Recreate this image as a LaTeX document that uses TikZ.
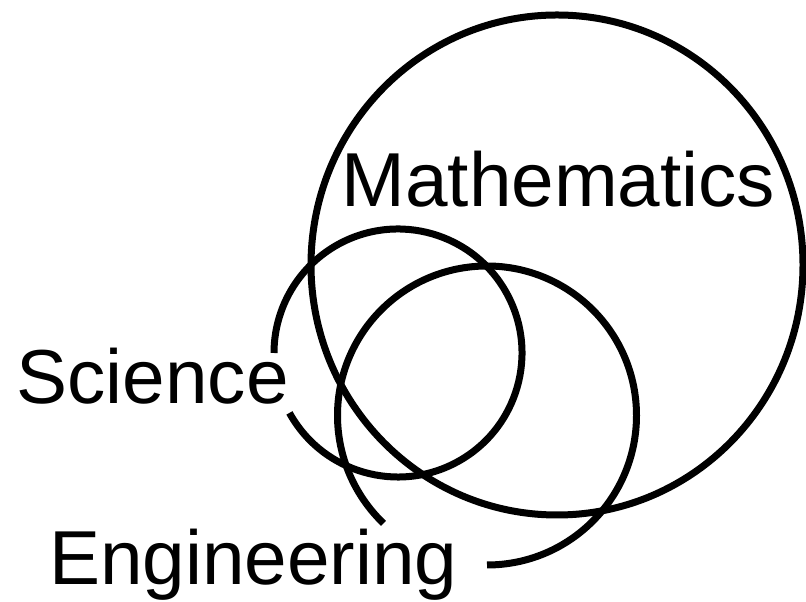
\documentclass[tikz,border=0pt]{standalone}
\usepackage{fontspec}
\setmainfont{Liberation Sans}
\tikzset{
  setline/.style={line width=7bp, black},
  setlabel/.style={anchor=base west, inner sep=0pt, font=\fontsize{76.5bp}{90bp}\selectfont}
}
\begin{document}
\begin{tikzpicture}[x=1bp,y=1bp]
\useasboundingbox (0,0) rectangle (806,602);
% centres
\coordinate (mc) at (557,337);
\coordinate (sc) at (398,249);
\coordinate (ec) at (487,186.5);
% Mathematics
\draw[setline] (mc) ellipse [x radius=246, y radius=250];
% Science (open on the left for its label)
\draw[setline] (sc) ++(208.9:124) arc[start angle=208.9, end angle=540, radius=124];
% Engineering (open at the lower left for its label)
\draw[setline] (ec) ++(270:149.5) arc[start angle=270, end angle=586.2, radius=149.5];
% labels
\node[setlabel] (math) at (341.3,395) {Mathematics};
\node[setlabel] (sci) at (16.4,198) {Science};
\node[setlabel] (eng) at (49,17) {Engineering};
\end{tikzpicture}
\end{document}
